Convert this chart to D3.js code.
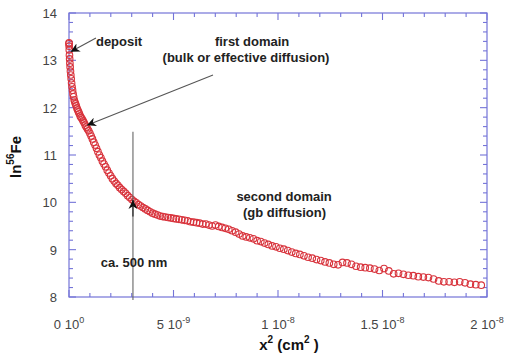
<!DOCTYPE html>
<html><head><meta charset="utf-8">
<script src="https://cdn.jsdelivr.net/npm/d3@7"></script>
<style>
body{margin:0;background:#fff;}
text{font-family:"Liberation Sans",Arial,Helvetica,sans-serif;}
</style></head>
<body><svg id="c" width="505" height="362"></svg>
<script>
// x^2 values in units of 1e-9 cm^2
const x2 = [0.001,0.003,0.008,0.014,0.022,0.031,0.042,0.055,0.070,0.087,
0.105,0.125,0.146,0.170,0.195,0.221,0.250,0.280,0.312,0.346,
0.381,0.419,0.458,0.498,0.541,0.585,0.631,0.678,0.728,0.779,
0.831,0.886,0.942,1.000,1.060,1.121,1.184,1.249,1.316,1.384,
1.454,1.526,1.599,1.675,1.752,1.830,1.911,1.993,2.077,2.163,
2.250,2.339,2.430,2.522,2.617,2.713,2.811,2.910,3.011,3.114,
3.219,3.325,3.433,3.543,3.655,3.768,3.883,4.000,4.119,4.239,
4.361,4.484,4.610,4.737,4.866,4.997,5.129,5.263,5.399,5.536,
5.676,5.817,5.959,6.104,6.250,6.398,6.548,6.699,6.852,7.007,
7.163,7.322,7.482,7.644,7.807,7.972,8.139,8.308,8.478,8.651,
8.824,9.000,9.177,9.356,9.537,9.720,9.904,10.090,10.278,10.467,
10.658,10.851,11.046,11.242,11.440,11.640,11.842,12.045,12.250,12.457,
12.665,12.875,13.087,13.301,13.516,13.734,13.952,14.173,14.396,14.619,
14.845,15.073,15.302,15.533,15.766,16.000,16.236,16.474,16.714,16.955,
17.198,17.443,17.690,17.938,18.188,18.439,18.693,18.948,19.205,19.464,19.724];
const lnFe = [13.37,13.35,13.30,13.22,13.11,13.03,12.94,12.86,12.77,12.69,
12.61,12.52,12.44,12.37,12.29,12.23,12.16,12.12,12.08,12.04,
11.99,11.95,11.91,11.87,11.82,11.79,11.76,11.72,11.68,11.63,
11.59,11.55,11.51,11.46,11.40,11.34,11.27,11.21,11.14,11.07,
11.00,10.94,10.87,10.81,10.75,10.68,10.62,10.56,10.50,10.45,
10.40,10.36,10.31,10.27,10.23,10.19,10.14,10.10,10.06,10.02,
9.99,9.95,9.92,9.89,9.86,9.83,9.80,9.77,9.75,9.73,
9.71,9.70,9.69,9.68,9.67,9.66,9.65,9.64,9.63,9.62,
9.61,9.59,9.58,9.57,9.56,9.54,9.54,9.52,9.50,9.52,
9.49,9.47,9.45,9.43,9.40,9.37,9.33,9.29,9.27,9.25,
9.23,9.19,9.17,9.14,9.11,9.08,9.06,9.03,9.01,8.98,
8.95,8.92,8.90,8.87,8.84,8.82,8.79,8.77,8.74,8.72,
8.69,8.68,8.73,8.72,8.69,8.65,8.63,8.62,8.61,8.59,
8.56,8.60,8.55,8.49,8.50,8.48,8.46,8.45,8.43,8.42,
8.41,8.38,8.34,8.32,8.32,8.31,8.32,8.30,8.27,8.26,8.25];
const xTickVals = [0,5,10,15,20];
const xTickMant = ["0","5","1","1.5","2"];
const xTickExp = ["0","-9","-8","-8","-8"];
const yTickVals = [8,9,10,11,12,13,14];

const svg = d3.select("#c");
const x = d3.scaleLinear().domain([0,20]).range([69,487]);
const y = d3.scaleLinear().domain([8,14]).range([297,13]);
const axisCol = "#7474d8";

// frame
svg.append("rect").attr("x",69).attr("y",13).attr("width",418).attr("height",284)
  .attr("fill","none").attr("stroke",axisCol).attr("stroke-width",1.2);

// ticks (inward)
const xMinor = d3.range(0,21,1), yMinor = d3.range(8,14.01,0.2);
const tg = svg.append("g").attr("stroke",axisCol).attr("stroke-width",1.1);
xMinor.forEach(v=>{
  const L = (v%5===0)?7:4;
  tg.append("line").attr("x1",x(v)).attr("x2",x(v)).attr("y1",297).attr("y2",297-L);
  tg.append("line").attr("x1",x(v)).attr("x2",x(v)).attr("y1",13).attr("y2",13+L);
});
yMinor.forEach(v=>{
  const major = Math.abs(v-Math.round(v))<1e-6;
  const L = major?7:4;
  tg.append("line").attr("x1",69).attr("x2",69+L).attr("y1",y(v)).attr("y2",y(v));
  tg.append("line").attr("x1",487).attr("x2",487-L).attr("y1",y(v)).attr("y2",y(v));
});

// y tick labels
svg.selectAll(".yl").data(yTickVals).enter().append("text")
  .attr("x",57).attr("y",d=>y(d)+5).attr("text-anchor","end")
  .attr("font-size",13).attr("fill","#444").text(d=>d);

// x tick labels
xTickVals.forEach((v,i)=>{
  const t = svg.append("text").attr("x",x(v)).attr("y",329).attr("text-anchor","middle")
    .attr("font-size",13).attr("fill","#444");
  t.append("tspan").text(xTickMant[i]+" 10");
  t.append("tspan").attr("dy",-6).attr("font-size",9).text(xTickExp[i]);
});

// axis titles
const xt = svg.append("text").attr("x",289).attr("y",350).attr("text-anchor","middle")
  .attr("font-size",15).attr("font-weight","bold").attr("fill","#111");
xt.append("tspan").text("x");
xt.append("tspan").attr("dy",-7).attr("font-size",10).text("2");
xt.append("tspan").attr("dy",7).text(" (cm");
xt.append("tspan").attr("dy",-7).attr("font-size",10).text("2");
xt.append("tspan").attr("dy",7).text(" )");

const yt = svg.append("text").attr("transform","translate(21,157) rotate(-90)")
  .attr("text-anchor","middle").attr("font-size",15).attr("font-weight","bold").attr("fill","#111");
yt.append("tspan").text("ln");
yt.append("tspan").attr("dy",-7).attr("font-size",10).text("56");
yt.append("tspan").attr("dy",7).text("Fe");

// data
svg.append("g").selectAll("circle").data(x2.map((d,i)=>[d,lnFe[i]])).enter().append("circle")
  .attr("cx",d=>x(d[0])).attr("cy",d=>y(d[1])).attr("r",3.3)
  .attr("fill","none").attr("stroke","#d8333c").attr("stroke-width",1.1);

// annotations
const defs = svg.append("defs");
defs.append("marker").attr("id","ah").attr("viewBox","0 0 10 10").attr("refX",10).attr("refY",5)
  .attr("markerWidth",12).attr("markerHeight",9).attr("markerUnits","userSpaceOnUse").attr("orient","auto")
  .append("path").attr("d","M0,0 L10,5 L0,10 L3,5 Z").attr("fill","#111");

const arrows = [
  {x1:1.29,y1:13.47,x2:0.08,y2:13.18},
  {x1:6.89,y1:12.69,x2:0.86,y2:11.63}
];
arrows.forEach(a=>{
  svg.append("line").attr("x1",x(a.x1)).attr("y1",y(a.y1)).attr("x2",x(a.x2)).attr("y2",y(a.y2))
    .attr("stroke","#555").attr("stroke-width",1.1).attr("marker-end","url(#ah)");
});
// vertical marker line at ca. 500 nm
svg.append("line").attr("x1",x(3.06)).attr("x2",x(3.06)).attr("y1",y(11.49)).attr("y2",300)
  .attr("stroke","#666").attr("stroke-width",1.1);
svg.append("line").attr("x1",x(3.06)).attr("x2",x(3.06)).attr("y1",y(9.7)).attr("y2",y(10.05))
  .attr("stroke","#111").attr("stroke-width",1).attr("marker-end","url(#ah)");

const labels = [
  {t:"deposit",x:1.29,y:13.30,a:"start"},
  {t:"first domain",x:8.76,y:13.30,a:"middle"},
  {t:"(bulk or effective diffusion)",x:8.47,y:12.96,a:"middle"},
  {t:"second domain",x:10.29,y:10.03,a:"middle"},
  {t:"(gb diffusion)",x:10.31,y:9.69,a:"middle"},
  {t:"ca. 500 nm",x:1.52,y:8.63,a:"start"}
];
svg.selectAll(".ann").data(labels).enter().append("text")
  .attr("x",d=>x(d.x)).attr("y",d=>y(d.y)).attr("text-anchor",d=>d.a)
  .attr("font-size",13).attr("font-weight","bold").attr("fill","#222").text(d=>d.t);
</script></body></html>
